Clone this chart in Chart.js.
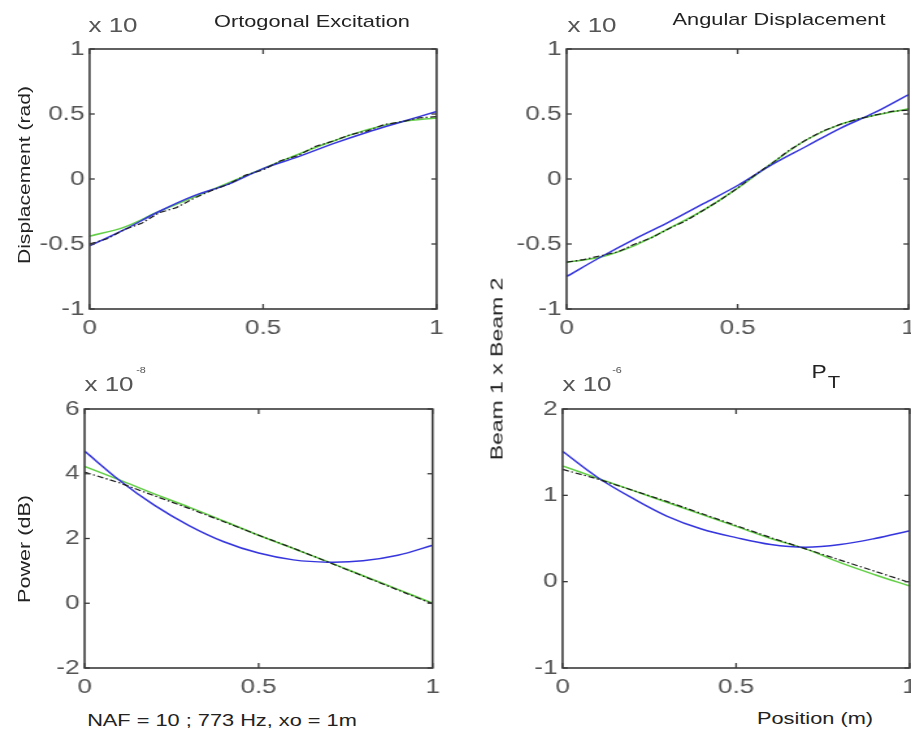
<!DOCTYPE html>
<html><head><meta charset="utf-8">
<script src="https://cdn.jsdelivr.net/npm/chart.js@4/dist/chart.umd.min.js"></script>
<style>
html,body{margin:0;padding:0;background:#fff;overflow:hidden;width:911px;height:733px}
#fig{position:relative;width:911px;height:733px;overflow:hidden;background:#fff}
canvas.cv{position:absolute;transform-origin:0 0;transform:scaleX(1.3)}
.t{position:absolute;font-family:"Liberation Sans",Arial,sans-serif;white-space:nowrap;color:#222;line-height:1}
</style></head><body><div id="fig"></div><script>
// ---------- data ----------
const xPos = [0, 0.1, 0.2, 0.3, 0.4, 0.5, 0.6, 0.7, 0.8, 0.9, 1.0];
const xPosFine = [0, 0.05, 0.1, 0.15, 0.2, 0.25, 0.3, 0.35, 0.4, 0.45, 0.5, 0.55, 0.6, 0.65, 0.7, 0.75, 0.8, 0.85, 0.9, 0.95, 1.0];
const xTickValues = [0, 0.5, 1];

// Ortogonal Excitation (top-left)
const orthoBlue  = [-0.515, -0.39, -0.25, -0.13, -0.04, 0.08, 0.17, 0.27, 0.36, 0.44, 0.52];
const orthoGreen = [-0.44, -0.37, -0.25, -0.14, -0.03, 0.08, 0.19, 0.29, 0.38, 0.44, 0.47];
const orthoBlack = [-0.50, -0.46, -0.39, -0.34, -0.26, -0.22, -0.15, -0.09, -0.04, 0.03, 0.07, 0.14, 0.18, 0.25, 0.29, 0.34, 0.37, 0.42, 0.44, 0.47, 0.48];

// Angular Displacement (top-right)
const angBlue  = [-0.75, -0.60, -0.46, -0.33, -0.19, -0.05, 0.11, 0.25, 0.39, 0.51, 0.65];
const angGreen = [-0.64, -0.60, -0.51, -0.38, -0.24, -0.07, 0.12, 0.30, 0.42, 0.49, 0.54];
const angBlack = [-0.64, -0.62, -0.59, -0.56, -0.50, -0.45, -0.38, -0.32, -0.24, -0.16, -0.07, 0.03, 0.12, 0.22, 0.30, 0.37, 0.42, 0.46, 0.49, 0.52, 0.53];

// Power (bottom-left), x 10^-8
const powBlue  = [4.70, 3.80, 3.03, 2.40, 1.90, 1.55, 1.34, 1.27, 1.31, 1.48, 1.79];
const powGreen = [4.23, 3.81, 3.38, 2.97, 2.54, 2.10, 1.69, 1.28, 0.85, 0.43, 0.0];
const powBlack = [4.05, 3.72, 3.32, 2.93, 2.52, 2.10, 1.70, 1.27, 0.84, 0.41, -0.02];

// P_T (bottom-right), x 10^-6
const ptBlue  = [1.51, 1.21, 0.97, 0.76, 0.61, 0.51, 0.43, 0.40, 0.43, 0.50, 0.59];
const ptGreen = [1.34, 1.20, 1.06, 0.92, 0.78, 0.64, 0.50, 0.38, 0.22, 0.08, -0.05];
const ptBlack = [1.30, 1.19, 1.06, 0.93, 0.79, 0.65, 0.51, 0.38, 0.25, 0.12, -0.01];

// ---------- styling ----------
const S = 1.3;              // horizontal glyph stretch of the original figure
const BLUE = '#3535dd', GREEN = '#62cf45', BLACK = '#1c1c1c';
const TICKFONT = {family: '"Liberation Sans", Arial, sans-serif', size: 20};
const TICKCOLOR = '#555';
const fmt = v => String(Math.round(v * 1000) / 1000);
const fig = document.getElementById('fig');

const frame = {
  id: 'frame',
  afterDraw(chart) {
    const {ctx, chartArea: a, scales: {x, y}} = chart;
    ctx.save();
    ctx.strokeStyle = '#3a3a3a';
    ctx.lineWidth = 1.6;
    ctx.strokeRect(a.left, a.top, a.right - a.left, a.bottom - a.top);
    ctx.lineWidth = 1.3;
    const seg = (x1, y1, x2, y2) => { ctx.beginPath(); ctx.moveTo(x1, y1); ctx.lineTo(x2, y2); ctx.stroke(); };
    x.ticks.forEach(t => { const px = x.getPixelForValue(t.value); seg(px, a.top, px, a.top + 5); seg(px, a.bottom, px, a.bottom - 5); });
    y.ticks.forEach(t => { const py = y.getPixelForValue(t.value); seg(a.left, py, a.left + 4, py); seg(a.right, py, a.right - 4, py); });
    ctx.restore();
  }
};

function pts(xs, ys) { return xs.map((v, i) => ({x: v, y: ys[i]})); }

function makePanel(p, yMin, yMax, yStep, blue, green, black, blackX) {
  const AXW = 52, TOP = 22, XAXH = 40, RPAD = 22;
  const plotW = (p.r - p.l) / S, plotH = p.b - p.t;
  const W = Math.ceil(AXW + plotW + RPAD);
  const H = TOP + plotH + XAXH;
  const cv = document.createElement('canvas');
  cv.className = 'cv';
  cv.width = W; cv.height = H;
  cv.style.width = W + 'px'; cv.style.height = H + 'px';
  cv.style.left = (p.l - AXW * S) + 'px';
  cv.style.top = (p.t - TOP) + 'px';
  fig.appendChild(cv);
  new Chart(cv, {
    type: 'line',
    data: {
      datasets: [
        {data: pts(blackX, black), borderColor: BLACK, borderWidth: 1.2, borderDash: [5, 2, 1.5, 2], pointRadius: 0, tension: 0, order: 0},
        {data: pts(xPos, blue), borderColor: BLUE, borderWidth: 1.5, pointRadius: 0, tension: 0.35, order: 1},
        {data: pts(xPos, green), borderColor: GREEN, borderWidth: 1.5, pointRadius: 0, tension: 0.35, order: 2}
      ]
    },
    options: {
      responsive: false, animation: false, devicePixelRatio: 1,
      layout: {padding: {left: 0, top: TOP, right: W - AXW - plotW, bottom: 0}},
      plugins: {legend: {display: false}, tooltip: {enabled: false}},
      scales: {
        x: {
          type: 'linear', min: 0, max: 1,
          afterBuildTicks: s => { s.ticks = xTickValues.map(v => ({value: v})); },
          ticks: {font: TICKFONT, color: TICKCOLOR, padding: 7, maxRotation: 0, autoSkip: false, callback: fmt},
          grid: {display: false, drawTicks: false}, border: {display: false},
          afterFit: s => { s.height = XAXH; }
        },
        y: {
          type: 'linear', min: yMin, max: yMax,
          ticks: {stepSize: yStep, font: TICKFONT, color: TICKCOLOR, padding: 4, callback: fmt},
          grid: {display: false, drawTicks: false}, border: {display: false},
          afterFit: s => { s.width = AXW; }
        }
      }
    },
    plugins: [frame]
  });
}

makePanel({l: 90, r: 437, t: 49, b: 309}, -1, 1, 0.5, orthoBlue, orthoGreen, orthoBlack, xPosFine);
makePanel({l: 567, r: 909, t: 49, b: 309}, -1, 1, 0.5, angBlue, angGreen, angBlack, xPosFine);
makePanel({l: 85, r: 433, t: 409, b: 668}, -2, 6, 2, powBlue, powGreen, powBlack, xPos);
makePanel({l: 563, r: 910, t: 409, b: 668}, -1, 2, 1, ptBlue, ptGreen, ptBlack, xPos);

// ---------- text ----------
function label(txt, cx, cy, size, opts = {}) {
  const d = document.createElement('div');
  d.className = 't';
  d.textContent = txt;
  d.style.fontSize = size + 'px';
  d.style.left = cx + 'px';
  d.style.top = cy + 'px';
  if (opts.color) d.style.color = opts.color;
  const k = opts.k || 1.28;
  d.style.transform = 'translate(-50%,-50%)' + (opts.rot ? ' rotate(' + opts.rot + 'deg)' : '') + ' scaleX(' + k + ')';
  fig.appendChild(d);
}
label('Ortogonal Excitation', 312, 21, 17);
label('Angular Displacement', 779, 19, 17);
label('x 10', 113, 25, 20, {color: '#555', k: 1.3});
label('x 10', 592, 25, 20, {color: '#555', k: 1.3});
label('x 10', 109, 384, 20, {color: '#555', k: 1.3});
label('-8', 141, 370, 9, {color: '#555', k: 1.2});
label('x 10', 587, 384, 20, {color: '#555', k: 1.3});
label('-6', 617, 370, 9, {color: '#555', k: 1.2});
label('P', 819, 371, 19, {k: 1.2});
label('T', 834, 382, 17, {k: 1.2});
label('Displacement (rad)', 24, 175, 17, {rot: -90, k: 1.24});
label('Power (dB)', 24, 549, 17, {rot: -90, k: 1.27});
label('Beam 1 x Beam 2', 497, 369, 17, {rot: -90, k: 1.35});
label('NAF = 10 ; 773 Hz, xo = 1m', 222, 720, 17);
label('Position (m)', 815, 718, 17);
</script></body></html>
